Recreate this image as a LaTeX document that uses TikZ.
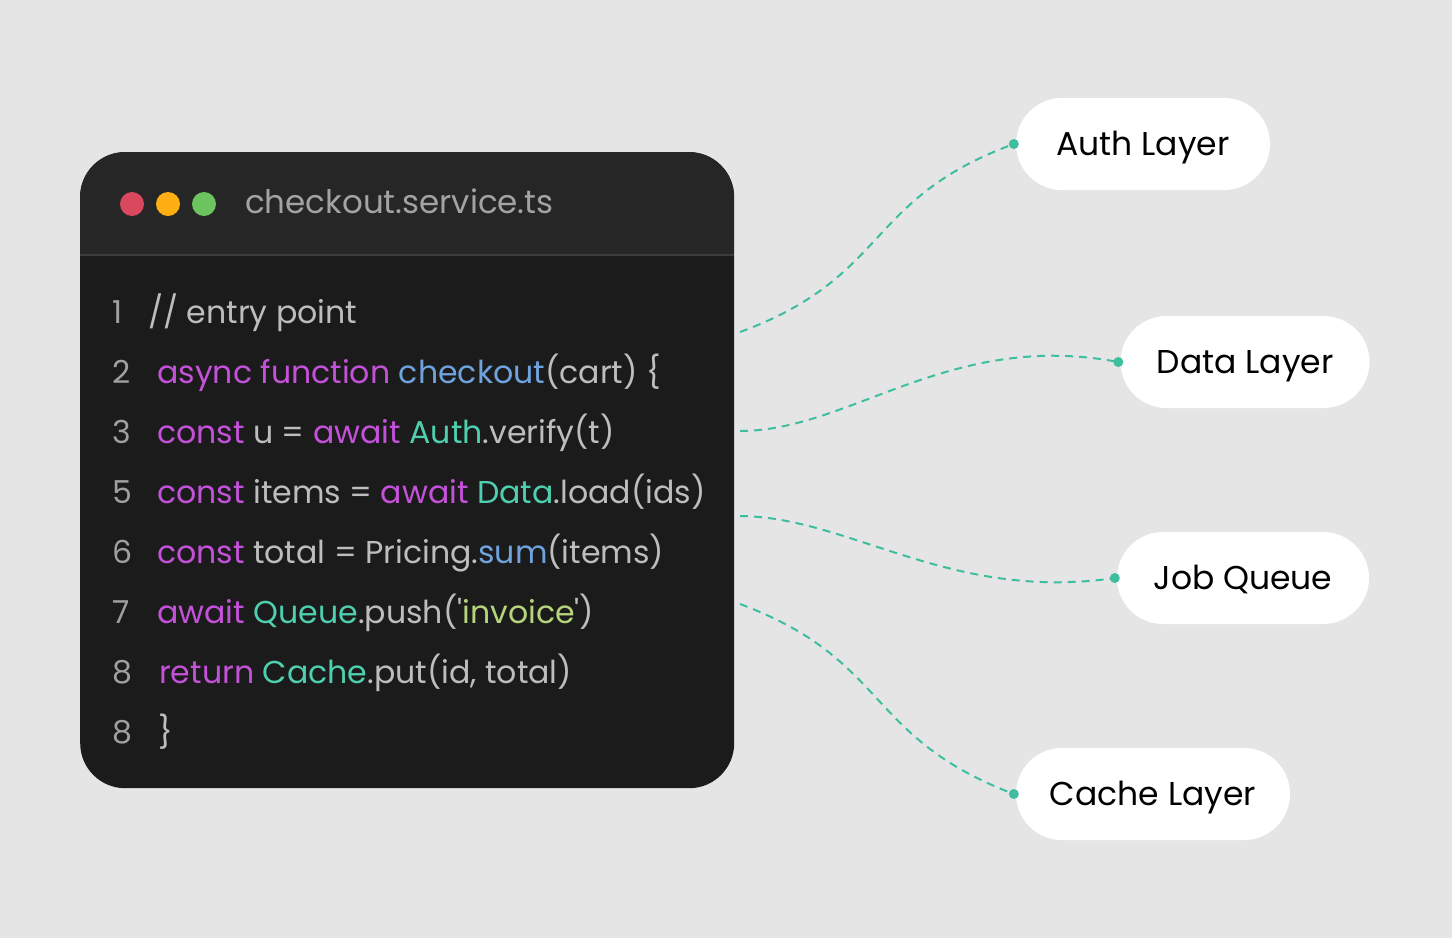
\documentclass[tikz,border=0pt]{standalone}
\usepackage{fontspec}
\setmainfont{Poppins}
\usetikzlibrary{calc}
\definecolor{bg}{HTML}{E5E5E5}
\definecolor{winbody}{HTML}{1B1B1B}
\definecolor{winbar}{HTML}{262626}
\definecolor{sepline}{HTML}{3C3C3C}
\definecolor{dotred}{HTML}{D9485C}
\definecolor{dotorange}{HTML}{FDAE12}
\definecolor{dotgreen}{HTML}{6CC45E}
\definecolor{titlegray}{HTML}{A3A3A3}
\definecolor{numgray}{HTML}{A0A0A0}
\definecolor{txt}{HTML}{BDBDBD}
\definecolor{kw}{HTML}{C451D9}
\definecolor{fn}{HTML}{6FA3DE}
\definecolor{obj}{HTML}{4ECFAF}
\definecolor{strc}{HTML}{B5D47C}
\definecolor{link}{HTML}{3DBE9F}
\tikzset{
  codefont/.style={font=\fontsize{31.6}{36}\selectfont},
  lnum/.style={codefont, text=numgray, anchor=base west, inner sep=0pt},
  codeline/.style={codefont, text=txt, anchor=base west, inner sep=0pt},
  pill/.style={fill=white, rounded corners=46pt, minimum height=92pt, text height=23pt, text depth=0pt, inner sep=0pt, font=\fontsize{33}{38}\selectfont, text=black},
  conn/.style={link, line width=2pt, dash pattern=on 8pt off 6pt},
  enddot/.style={circle, fill=link, inner sep=0pt, minimum size=10pt},
  wdot/.style={circle, inner sep=0pt, minimum size=24pt},
}
\newcommand{\K}[1]{\textcolor{kw}{#1}}
\newcommand{\F}[1]{\textcolor{fn}{#1}}
\newcommand{\Ob}[1]{\textcolor{obj}{#1}}
\newcommand{\Sq}[1]{\textcolor{strc}{#1}}
\begin{document}
\begin{tikzpicture}[x=1pt,y=-1pt]
\fill[bg] (0,0) rectangle (1452,938);
\useasboundingbox (0,0) rectangle (1452,938);
% window
\node[fill=winbody, rounded corners=45pt, minimum width=654pt, minimum height=636pt, anchor=north west, inner sep=0pt] (win) at (80,152) {};
\begin{scope}
\clip[rounded corners=45pt] (80,152) rectangle (734,788);
\fill[winbar] (80,152) rectangle (734,255);
\draw[sepline, line width=2pt] (80,255) -- (734,255);
\end{scope}
\node[wdot, fill=dotred] (dr) at (132,204) {};
\node[wdot, fill=dotorange] (do) at (168,204) {};
\node[wdot, fill=dotgreen] (dg) at (204,204) {};
\node[anchor=base west, inner sep=0pt, text=titlegray, font=\fontsize{32.5}{36}\selectfont] (title) at (245,213) {checkout.service.ts};
% line numbers
\node[lnum] (n1) at (112,323) {1};
\node[lnum] (n2) at (112,383) {2};
\node[lnum] (n3) at (112,443) {3};
\node[lnum] (n5) at (112,503) {5};
\node[lnum] (n6) at (112,563) {6};
\node[lnum] (n7) at (112,623) {7};
\node[lnum] (n8) at (112,683) {8};
\node[lnum] (n9) at (112,743) {8};
% code
\node[codeline] (c1) at (148,323) {// entry point};
\node[codeline] (c2) at (157,383) {\K{async function} \F{checkout}(cart) \{};
\node[codeline] (c3) at (157,443) {\K{const} u = \K{await} \Ob{Auth}.verify(t)};
\node[codeline] (c5) at (157,503) {\K{const} items = \K{await} \Ob{Data}.load(ids)};
\node[codeline] (c6) at (157,563) {\K{const} total = Pricing.\F{sum}(items)};
\node[codeline] (c7) at (157,623) {\K{await} \Ob{Queue}.push(\textquotesingle\Sq{invoice}\textquotesingle)};
\node[codeline] (c8) at (159,683) {\K{return} \Ob{Cache}.put(id, total)};
\node[codeline] (c9) at (158,743) {\}};
% pills
\node[pill, minimum width=254pt] (auth) at (1143,144) {Auth Layer};
\node[pill, minimum width=249pt] (data) at (1245,362) {Data Layer};
\node[pill, minimum width=252pt] (job) at (1243,578) {Job Queue};
\node[pill, minimum width=274pt] (cache) at (1153,794) {Cache Layer};
% connector free ends
\coordinate (s1) at (740,332);
\coordinate (s2) at (740,431);
\coordinate (s3) at (740,516);
\coordinate (s4) at (740,604);
\draw[conn] (s1) .. controls (890,277) and (864,199) .. ([xshift=-2pt]auth.west);
\draw[conn] (s2) .. controls (850,431) and (950,330) .. ([xshift=-2pt]data.west);
\draw[conn] (s3) .. controls (850,517) and (950,602) .. ([xshift=-2pt]job.west);
\draw[conn] (s4) .. controls (890,660) and (864,737) .. ([xshift=-2pt]cache.west);
\node[enddot] (d1) at ([xshift=-2pt]auth.west) {};
\node[enddot] (d2) at ([xshift=-2pt]data.west) {};
\node[enddot] (d3) at ([xshift=-2pt]job.west) {};
\node[enddot] (d4) at ([xshift=-2pt]cache.west) {};
\end{tikzpicture}
\end{document}
